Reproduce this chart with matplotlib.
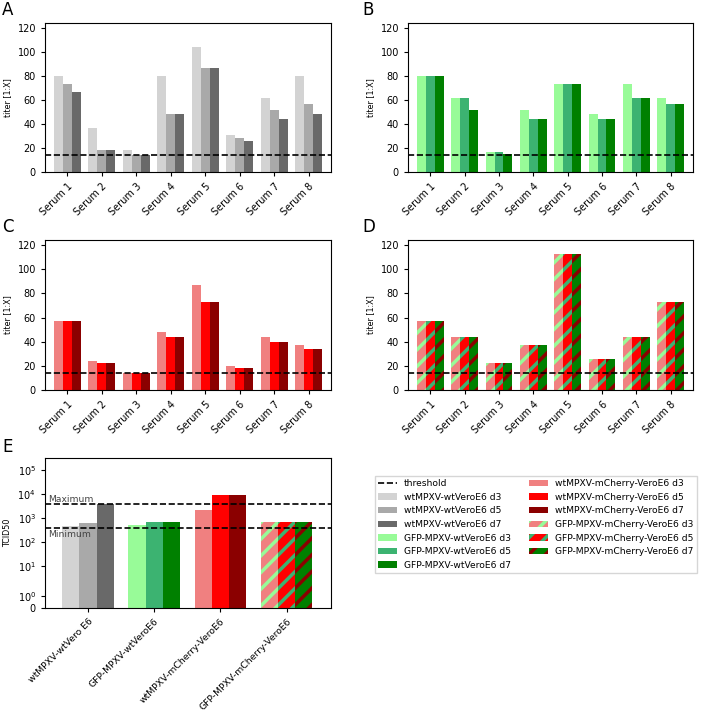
import numpy as np
import matplotlib
matplotlib.use("Agg")
import matplotlib.pyplot as plt
from matplotlib.ticker import FixedLocator, NullLocator

# Datos de titulación (Serum 1..8), días d3 / d5 / d7
SERA = ["Serum 1", "Serum 2", "Serum 3", "Serum 4",
        "Serum 5", "Serum 6", "Serum 7", "Serum 8"]
DAYS = ["d3", "d5", "d7"]
THRESHOLD = 14

A_D3 = [80, 37, 18, 80, 104, 31, 62, 80]
A_D5 = [73, 18, 14, 48, 87, 28, 52, 57]
A_D7 = [67, 18, 14, 48, 87, 26, 44, 48]

B_D3 = [80, 62, 17, 52, 73, 48, 73, 62]
B_D5 = [80, 62, 17, 44, 73, 44, 62, 57]
B_D7 = [80, 52, 15, 44, 73, 44, 62, 57]

C_D3 = [57, 24, 14, 48, 87, 20, 44, 37]
C_D5 = [57, 22, 14, 44, 73, 18, 40, 34]
C_D7 = [57, 22, 14, 44, 73, 18, 40, 34]

D_D3 = [57, 44, 22, 37, 113, 26, 44, 73]
D_D5 = [57, 44, 22, 37, 113, 26, 44, 73]
D_D7 = [57, 44, 22, 37, 113, 26, 44, 73]

# TCID50 por combinación virus / célula
E_GROUPS = ["wtMPXV-wtVero E6", "GFP-MPXV-wtVeroE6",
            "wtMPXV-mCherry-VeroE6", "GFP-MPXV-mCherry-VeroE6"]
E_D3 = [445, 505, 2100, 655]
E_D5 = [595, 655, 9100, 655]
E_D7 = [3560, 655, 9100, 655]
TCID_MAX = 3560
TCID_MIN = 356

SERIES_NAMES = ["wtMPXV-wtVeroE6", "GFP-MPXV-wtVeroE6",
                "wtMPXV-mCherry-VeroE6", "GFP-MPXV-mCherry-VeroE6"]

# Estilos
GREYS = ["lightgray", "darkgray", "dimgray"]
GREENS = ["palegreen", "mediumseagreen", "green"]
REDS = ["lightcoral", "red", "darkred"]
HATCH_FACE = ["lightcoral", "red", "green"]
HATCH_COL = ["palegreen", "mediumseagreen", "darkred"]
BAR_W = 0.26

plt.rcParams["hatch.linewidth"] = 2.5
plt.rcParams["font.size"] = 7

fig = plt.figure(figsize=(7.02, 7.13), dpi=100)
W, H = 702.0, 713.0


def make_ax(left, top, right, bottom):
    return fig.add_axes([left / W, 1 - bottom / H, (right - left) / W, (bottom - top) / H])


ax_a = make_ax(45, 23, 331, 172)
ax_b = make_ax(408, 23, 693, 172)
ax_c = make_ax(45, 240, 331, 390)
ax_d = make_ax(408, 240, 693, 390)
ax_e = make_ax(45, 458, 331, 608)

ymax = 1.1 * max(max(A_D3), max(B_D3), max(C_D3), max(D_D3))
x = np.arange(len(SERA))


def draw_bars(ax, xpos, series, colors, names, hatched=False):
    handles = []
    for i, vals in enumerate(series):
        pos = xpos + (i - 1) * BAR_W
        if hatched:
            h = ax.bar(pos, vals, BAR_W, color=HATCH_FACE[i], edgecolor=HATCH_COL[i],
                       linewidth=0, hatch="//", label=f"{names} {DAYS[i]}")
        else:
            h = ax.bar(pos, vals, BAR_W, color=colors[i], linewidth=0,
                       label=f"{names} {DAYS[i]}")
        handles.append(h)
    return handles


def style_titer(ax):
    ax.axhline(THRESHOLD, color="black", linestyle="--", linewidth=1.2, label="threshold")
    ax.set_ylim(0, ymax)
    ax.set_xlim(-0.65, 7.65)
    ax.set_yticks([0, 20, 40, 60, 80, 100, 120])
    ax.set_xticks(x)
    ax.set_xticklabels(SERA, rotation=45, ha="right", rotation_mode="anchor")
    ax.set_ylabel("titer [1:X]", fontsize=5.8)
    ax.tick_params(labelsize=7, length=3, width=0.8)


draw_bars(ax_a, x, [A_D3, A_D5, A_D7], GREYS, SERIES_NAMES[0])
draw_bars(ax_b, x, [B_D3, B_D5, B_D7], GREENS, SERIES_NAMES[1])
draw_bars(ax_c, x, [C_D3, C_D5, C_D7], REDS, SERIES_NAMES[2])
draw_bars(ax_d, x, [D_D3, D_D5, D_D7], None, SERIES_NAMES[3], hatched=True)
for ax in (ax_a, ax_b, ax_c, ax_d):
    style_titer(ax)

# Panel E: TCID50 en escala symlog
xe = np.arange(len(E_GROUPS))
e_vals = list(zip(E_D3, E_D5, E_D7))
handles = []
thr = ax_e.axhline(TCID_MAX, color="black", linestyle="--", linewidth=1.2, label="threshold")
ax_e.axhline(TCID_MIN, color="black", linestyle="--", linewidth=1.2)
for g, (name, cols) in enumerate(zip(SERIES_NAMES, [GREYS, GREENS, REDS, None])):
    for i in range(3):
        pos = xe[g] + (i - 1) * BAR_W
        if cols is None:
            h = ax_e.bar(pos, e_vals[g][i], BAR_W, color=HATCH_FACE[i], edgecolor=HATCH_COL[i],
                         linewidth=0, hatch="//", label=f"{name} {DAYS[i]}")
        else:
            h = ax_e.bar(pos, e_vals[g][i], BAR_W, color=cols[i], linewidth=0,
                         label=f"{name} {DAYS[i]}")
        handles.append(h)

ax_e.set_yscale("symlog", linthresh=2.2, linscale=1.0)
ax_e.set_ylim(0, 3.1e5)
ax_e.yaxis.set_major_locator(FixedLocator([0, 1, 10, 100, 1e3, 1e4, 1e5]))
ax_e.yaxis.set_minor_locator(NullLocator())
ax_e.set_yticklabels(["0", "$10^{0}$", "$10^{1}$", "$10^{2}$", "$10^{3}$", "$10^{4}$", "$10^{5}$"])
ax_e.set_xlim(-0.65, 3.67)
ax_e.set_xticks(xe)
ax_e.set_xticklabels(E_GROUPS, rotation=45, ha="right", rotation_mode="anchor")
ax_e.set_ylabel("TCID50", fontsize=5.8)
ax_e.tick_params(labelsize=7, length=3, width=0.8)
ax_e.tick_params(axis="x", labelsize=6.7)
ax_e.text(-0.6, TCID_MAX * 1.08, "Maximum", fontsize=6.6, color="#444444", va="bottom")
ax_e.text(-0.6, TCID_MIN * 0.85, "Minimum", fontsize=6.6, color="#444444", va="top")

fig.legend(handles=[thr] + handles, ncol=2, fontsize=6.6, loc="upper left",
           bbox_to_anchor=(370 / W, 1 - 471 / H), columnspacing=2.0, handlelength=2.0,
           frameon=True, fancybox=False, edgecolor="#cccccc")

for label, (px, py) in zip("ABCDE", [(2, 15), (362, 15), (2, 232), (362, 232), (2, 452)]):
    fig.text(px / W, 1 - py / H, label, fontsize=12, ha="left", va="baseline")

plt.savefig("out.png", dpi=100)
plt.close()
